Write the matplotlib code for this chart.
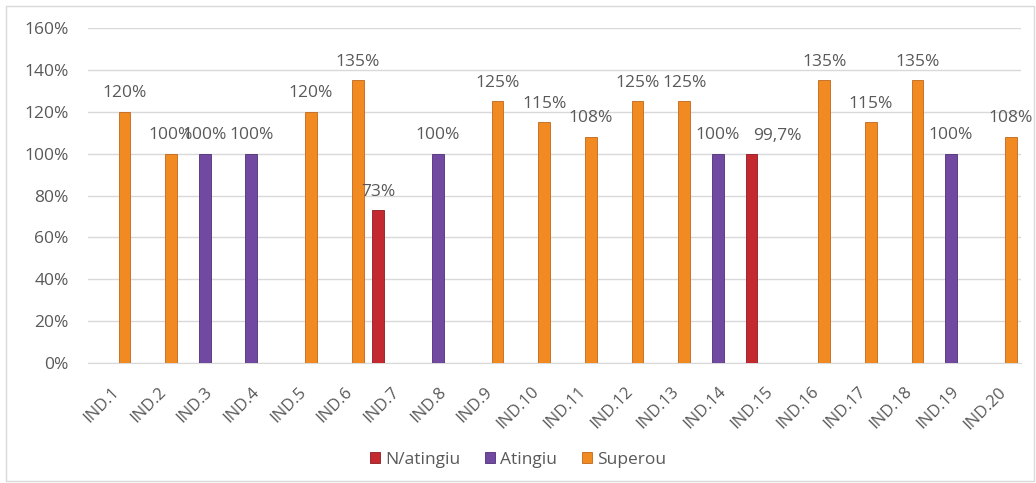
import numpy as np
import matplotlib
matplotlib.use("Agg")
import matplotlib.pyplot as plt
from matplotlib.patches import Rectangle

categories = ["IND.%d" % i for i in range(1, 21)]
nan = np.nan
n_atingiu = [nan, nan, nan, nan, nan, nan, 73, nan, nan, nan,
             nan, nan, nan, nan, 99.7, nan, nan, nan, nan, nan]
atingiu = [nan, nan, 100, 100, nan, nan, nan, 100, nan, nan,
           nan, nan, nan, 100, nan, nan, nan, nan, 100, nan]
superou = [120, 100, nan, nan, 120, 135, nan, nan, 125, 115,
           108, 125, 125, nan, nan, 135, 115, 135, nan, 108]

series = [
    ("N/atingiu", n_atingiu, "#C3292E", "#8E1B1F"),
    ("Atingiu", atingiu, "#7149A0", "#4F2F78"),
    ("Superou", superou, "#F28A22", "#C0661A"),
]
offsets = [-0.28, 0.0, 0.28]
bar_w = 0.25
grey = "#595959"
font = "Open Sans"
fs = 12.5

fig = plt.figure(figsize=(10.36, 4.83), dpi=100)
fig.patches.append(Rectangle((0.006, 0.004), 0.992, 0.984, transform=fig.transFigure,
                             fill=False, edgecolor="#D9D9D9", linewidth=1.0))
ax = fig.add_axes([0.085, 0.2484, 0.9005, 0.6936])

x = np.arange(len(categories))
for (name, vals, color, edge), off in zip(series, offsets):
    vals = np.array(vals, dtype=float)
    ax.bar(x + off, vals, width=bar_w, color=color, edgecolor=edge,
           linewidth=0.6, label=name, zorder=3)
    for xi, v in zip(x + off, vals):
        if np.isnan(v):
            continue
        txt = ("%g%%" % v).replace(".", ",")
        # Excel nudged the 99,7% label to the right to clear its neighbour
        nudge = 0.55 if txt == "99,7%" else 0.0
        ax.text(xi + nudge, v + 5, txt, ha="center", va="bottom", fontsize=fs,
                color=grey, family=font, zorder=4)

ax.set_xlim(-0.5, len(categories) - 0.5)
ax.set_ylim(0, 160)
ax.set_yticks(np.arange(0, 161, 20))
ax.set_yticklabels(["%d%%" % t for t in range(0, 161, 20)], family=font,
                   fontsize=fs, color=grey)
ax.set_xticks(x)
ax.set_xticklabels(categories, rotation=45, ha="right", va="top",
                   rotation_mode="anchor", family=font, fontsize=fs - 0.5, color=grey)
ax.tick_params(axis="both", length=0)
ax.tick_params(axis="y", pad=14)
ax.tick_params(axis="x", pad=15)
ax.grid(axis="y", color="#D9D9D9", linewidth=1.0, zorder=0)
for s in ["top", "right", "left"]:
    ax.spines[s].set_visible(False)
ax.spines["bottom"].set_color("#D9D9D9")

leg = fig.legend(loc="center", bbox_to_anchor=(0.5, 0.048), ncol=3, frameon=False,
                 prop={"family": font, "size": fs}, handlelength=0.6,
                 handleheight=0.6, handletextpad=0.3, columnspacing=1.4)
for t in leg.get_texts():
    t.set_color(grey)

fig.savefig("out.png", dpi=100)
